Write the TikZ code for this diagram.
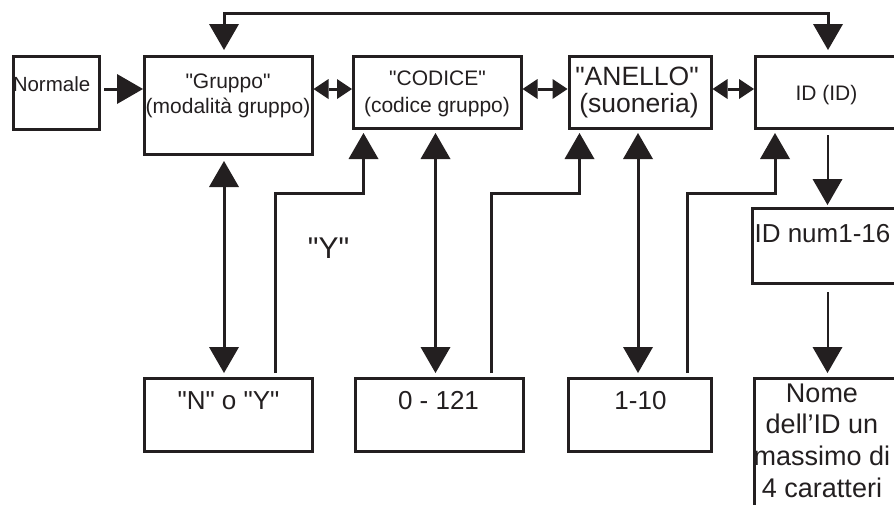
\documentclass[tikz,border=0pt]{standalone}
\usepackage{fontspec}
\newfontfamily\lsans{Liberation Sans}
\usetikzlibrary{arrows.meta,calc}
\definecolor{ink}{HTML}{231F20}
\tikzset{
  BigTri/.tip={Triangle[width=30pt,length=26pt,line width=0pt]},
  SmTri/.tip={Triangle[width=20pt,length=15pt,line width=0pt]},
}
\begin{document}
\begin{tikzpicture}[x=1pt,y=-1pt,
  box/.style={draw=ink, line width=3pt, rectangle, inner sep=0pt},
  conn/.style={draw=ink, line width=3pt},
  thinconn/.style={draw=ink, line width=2pt},
  lbl/.style={anchor=base, inner sep=0pt, text=ink},
  fA/.style={font=\lsans\fontsize{20.5}{24}\selectfont},
  fB/.style={font=\lsans\fontsize{21}{24}\selectfont},
  fC/.style={font=\lsans\fontsize{26.5}{30}\selectfont},
  fD/.style={font=\lsans\fontsize{26}{30}\selectfont},
  fE/.style={font=\lsans\fontsize{27}{30}\selectfont},
  fY/.style={font=\lsans\fontsize{30}{34}\selectfont},
]
\path[use as bounding box] (0,0) rectangle (894,504);
\clip (0,0) rectangle (894,504);

% boxes
\node[box, minimum width=86pt,    minimum height=73pt]   (Normale) at (56.5,93) {};
\node[box, minimum width=167.5pt, minimum height=98.5pt] (Gruppo)  at (228.25,105.25) {};
\node[box, minimum width=167.5pt, minimum height=72pt]   (Codice)  at (437.25,92) {};
\node[box, minimum width=142pt,   minimum height=72pt]   (Anello)  at (640,92) {};
\node[box, minimum width=164.5pt, minimum height=72pt]   (ID)      at (837.75,92) {};
\node[box, minimum width=167.5pt, minimum height=74.5pt] (IDnum)   at (836.25,245.75) {};
\node[box, minimum width=168pt,   minimum height=73.5pt] (NoY)     at (228,414.75) {};
\node[box, minimum width=168pt,   minimum height=73.5pt] (Zero)    at (439.5,414.75) {};
\node[box, minimum width=143.5pt, minimum height=73.5pt] (Uno)     at (639.75,414.75) {};
\node[box, minimum width=165.5pt, minimum height=152pt]  (Nome)    at (837.25,454) {};

% texts
\node[lbl,fA] (tNormale) at (51.5,91) {Normale};
\node[lbl,fB] (tGr1) at (228,88) {"Gruppo"};
\node[lbl,fB] (tGr2) at (228,113) {(modalità gruppo)};
\node[lbl,fB] (tCo1) at (437.5,85) {"CODICE"};
\node[lbl,fB] (tCo2) at (437,112) {(codice gruppo)};
\node[lbl,fC] (tAn1) at (637,85) {"ANELLO"};
\node[lbl,fC] (tAn2) at (639,112) {(suoneria)};
\node[lbl,fB] (tID) at (826.5,100) {ID (ID)};
\node[lbl,fD] (tIDnum) at (822.5,242) {ID num1-16};
\node[lbl,fD] (tNoY) at (228.5,409) {"N" o "Y"};
\node[lbl,fD] (tZero) at (438.5,409) {0 - 121};
\node[lbl,fD] (tUno) at (640.5,409) {1-10};
\node[lbl,fE] (tNo1) at (822,402) {Nome};
\node[lbl,fE] (tNo2) at (822,433.5) {dell’ID un};
\node[lbl,fE] (tNo3) at (822,465.5) {massimo di};
\node[lbl,fE] (tNo4) at (822,497) {4 caratteri};
\node[lbl,fY] (tY) at (328.5,258) {"Y"};

% horizontal connectors
\draw[conn,-{BigTri}, shorten <=3pt] (Normale.east |- 0,89) -- (Gruppo.west |- 0,89);
\draw[conn,{SmTri}-{SmTri}] (Gruppo.east |- 0,89) -- (Codice.west |- 0,89);
\draw[conn,{SmTri}-{SmTri}] (Codice.east |- 0,89) -- (Anello.west |- 0,89);
\draw[conn,{SmTri}-{SmTri}] (Anello.east |- 0,89) -- (ID.west |- 0,89);

% top loop
\draw[conn,{BigTri}-{BigTri}, shorten <=4.5pt, shorten >=4.5pt]
  (Gruppo.north -| 224,0) -- (224,13) -- (828,13) -- (ID.north -| 828,0);

% vertical two-way connectors
\draw[conn,{BigTri}-{BigTri}, shorten <=5pt, shorten >=3.5pt]
  (Gruppo.south -| 224,0) -- (NoY.north -| 224,0);
\draw[conn,{BigTri}-{BigTri}, shorten <=3.5pt, shorten >=3.5pt]
  (Codice.south -| 435.5,0) -- (Zero.north -| 435.5,0);
\draw[conn,{BigTri}-{BigTri}, shorten <=3.5pt, shorten >=3.5pt]
  (Anello.south -| 638,0) -- (Uno.north -| 638,0);

% return connectors
\draw[conn,-{BigTri}, shorten <=3.5pt, shorten >=3.5pt]
  (NoY.north -| 275.5,0) -- (275.5,193.5) -| (Codice.south -| 363.5,0);
\draw[conn,-{BigTri}, shorten <=3.5pt, shorten >=3.5pt]
  (Zero.north -| 491,0) -- (491,193.5) -| (Anello.south -| 579.5,0);
\draw[conn,-{BigTri}, shorten <=3.5pt, shorten >=3.5pt]
  (Uno.north -| 687.5,0) -- (687.5,193.5) -| (ID.south -| 775,0);

% ID column
\draw[thinconn,-{BigTri}, shorten <=5.5pt, shorten >=2pt]
  (ID.south -| 827.5,0) -- (IDnum.north -| 827.5,0);
\draw[thinconn,-{BigTri}, shorten <=7.5pt, shorten >=3.5pt]
  (IDnum.south -| 827.5,0) -- (Nome.north -| 827.5,0);
\end{tikzpicture}
\end{document}
